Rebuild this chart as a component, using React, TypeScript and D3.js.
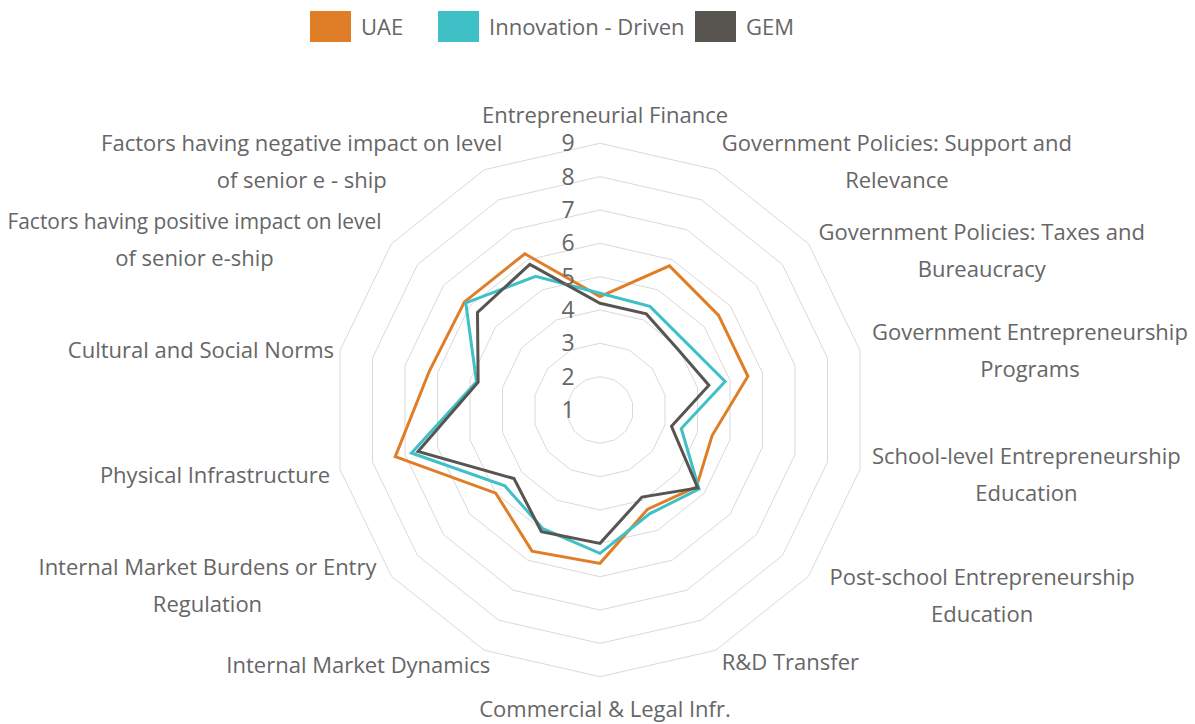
import React, { useEffect, useRef } from 'react';
import * as d3 from 'd3';

// axis labels, "\n" marks the line breaks seen in the chart
const categories = [
  'Entrepreneurial Finance',
  'Government Policies: Support and\nRelevance',
  'Government Policies: Taxes and\nBureaucracy',
  'Government Entrepreneurship\nPrograms',
  'School-level Entrepreneurship\nEducation',
  'Post-school Entrepreneurship\nEducation',
  'R&D Transfer',
  'Commercial & Legal Infr.',
  'Internal Market Dynamics',
  'Internal Market Burdens or Entry\nRegulation',
  'Physical Infrastructure',
  'Cultural and Social Norms',
  'Factors having positive impact on level\nof senior e-ship',
  'Factors having negative impact on level\nof senior e - ship',
];

const uaeValues = [4.4, 5.8, 5.55, 5.55, 4.45, 4.7, 4.3, 5.6, 5.7, 5.0, 7.3, 6.25, 6.2, 6.2];
const innovationValues = [4.5, 4.45, 4.28, 4.85, 3.5, 4.8, 4.45, 5.3, 4.95, 4.65, 6.8, 4.8, 6.15, 5.45];
const gemValues = [4.2, 4.2, 3.96, 4.35, 3.2, 4.75, 3.9, 5.0, 5.05, 4.3, 6.6, 4.75, 5.7, 5.85];

const seriesNames = ['UAE', 'Innovation - Driven', 'GEM'];
const seriesColors = ['#E07E27', '#3FBFC6', '#58544F'];

const tickValues = [1, 2, 3, 4, 5, 6, 7, 8, 9];

// small per-label nudges (px) so the labels sit where Excel put them
const labelNudgeX = [0, -4, 0, 2, 2, 11, -4, 0, 16, -5, 0, 4, 0, 28];
const labelNudgeY = [0, -8, 7, 0, 5, 20, 12, 0, 15, 10, 6, 0, -4, -8];

const App = () => {
    const chartRef = useRef<SVGSVGElement>(null);

    useEffect(() => {
        const width = 1195;
        const height = 724;
        const cx = 600;
        const cy = 410;
        const radius = 266.7;
        const textColor = '#666666';
        const fontFamily = '"Open Sans", sans-serif';

        const svg = d3.select(chartRef.current).attr('width', width).attr('height', height);
        svg.selectAll('*').remove();

        const r = d3.scaleLinear().domain([1, 9]).range([0, radius]);
        const angle = d3
            .scaleLinear()
            .domain([0, categories.length])
            .range([0, 2 * Math.PI]);

        const g = svg.append('g').attr('transform', `translate(${cx},${cy})`);

        // ring gridlines (the value 1 is the centre, so start at 2)
        const ringLine = d3
            .lineRadial<number>()
            .angle((_, i) => angle(i))
            .radius((d) => r(d))
            .curve(d3.curveLinearClosed);

        g.append('g')
            .selectAll('path')
            .data(tickValues.filter((v) => v > 1))
            .enter()
            .append('path')
            .attr('d', (v) => ringLine(categories.map(() => v)))
            .attr('fill', 'none')
            .attr('stroke', '#d9d9d9')
            .attr('stroke-width', 1);

        // series
        const allSeries = [uaeValues, innovationValues, gemValues];
        g.append('g')
            .selectAll('path')
            .data(allSeries)
            .enter()
            .append('path')
            .attr('d', (d) => ringLine(d))
            .attr('fill', 'none')
            .attr('stroke', (_, i) => seriesColors[i])
            .attr('stroke-width', 3)
            .attr('stroke-linejoin', 'miter');

        // value ticks, drawn left of the top axis
        g.append('g')
            .selectAll('text')
            .data(tickValues)
            .enter()
            .append('text')
            .attr('x', -32)
            .attr('y', (d) => -r(d))
            .attr('dy', '0.35em')
            .attr('text-anchor', 'middle')
            .attr('font-family', fontFamily)
            .attr('font-size', 23)
            .attr('fill', textColor)
            .text((d) => d);

        // category labels
        const lineHeight = 37;
        const maxLabelWidth = 374;
        const labelGroup = g.append('g');
        categories.forEach((label, i) => {
            const a = angle(i);
            const s = Math.sin(a);
            const c = Math.cos(a);
            const vx = radius * s;
            const vy = -radius * c;
            const lines = label.split('\n');

            const block = labelGroup.append('g');
            const texts = block
                .selectAll('text')
                .data(lines)
                .enter()
                .append('text')
                .attr('x', 0)
                .attr('y', (_, k) => k * lineHeight)
                .attr('dy', '0.35em')
                .attr('text-anchor', 'middle')
                .attr('font-family', fontFamily)
                .attr('font-size', 22)
                .attr('fill', textColor)
                .text((d) => d);

            let w = 0;
            texts.each(function () {
                const t = this as SVGTextElement;
                let len = t.getComputedTextLength();
                // the left-hand labels run out of room, squeeze them a bit
                if (s < -0.5 && len > maxLabelWidth) {
                    t.setAttribute('textLength', String(maxLabelWidth));
                    t.setAttribute('lengthAdjust', 'spacingAndGlyphs');
                    len = maxLabelWidth;
                }
                w = Math.max(w, len);
            });
            const blockH = (lines.length - 1) * lineHeight;

            let bx = vx;
            let by = vy - blockH / 2;
            if (Math.abs(s) < 0.1) {
                bx = vx + 5;
                by = c > 0 ? vy - 28 - blockH : vy + 33;
            } else if (s > 0) {
                bx = vx + 10 + w / 2;
            } else {
                bx = vx - 10 - w / 2;
            }
            block.attr('transform', `translate(${bx + labelNudgeX[i]},${by + labelNudgeY[i]})`);
        });

        // legend
        const legendX = [310, 438, 695];
        const legend = svg.append('g');
        seriesNames.forEach((name, i) => {
            legend
                .append('rect')
                .attr('x', legendX[i])
                .attr('y', 11)
                .attr('width', 41)
                .attr('height', 31)
                .attr('fill', seriesColors[i]);
            legend
                .append('text')
                .attr('x', legendX[i] + 51)
                .attr('y', 27)
                .attr('dy', '0.35em')
                .attr('font-family', fontFamily)
                .attr('font-size', 22)
                .attr('fill', textColor)
                .text(name);
        });
    }, []);

    return (
        <div style={{ position: 'absolute', left: 0, top: 0 }}>
            <svg ref={chartRef}></svg>
        </div>
    );
};

export default App;
